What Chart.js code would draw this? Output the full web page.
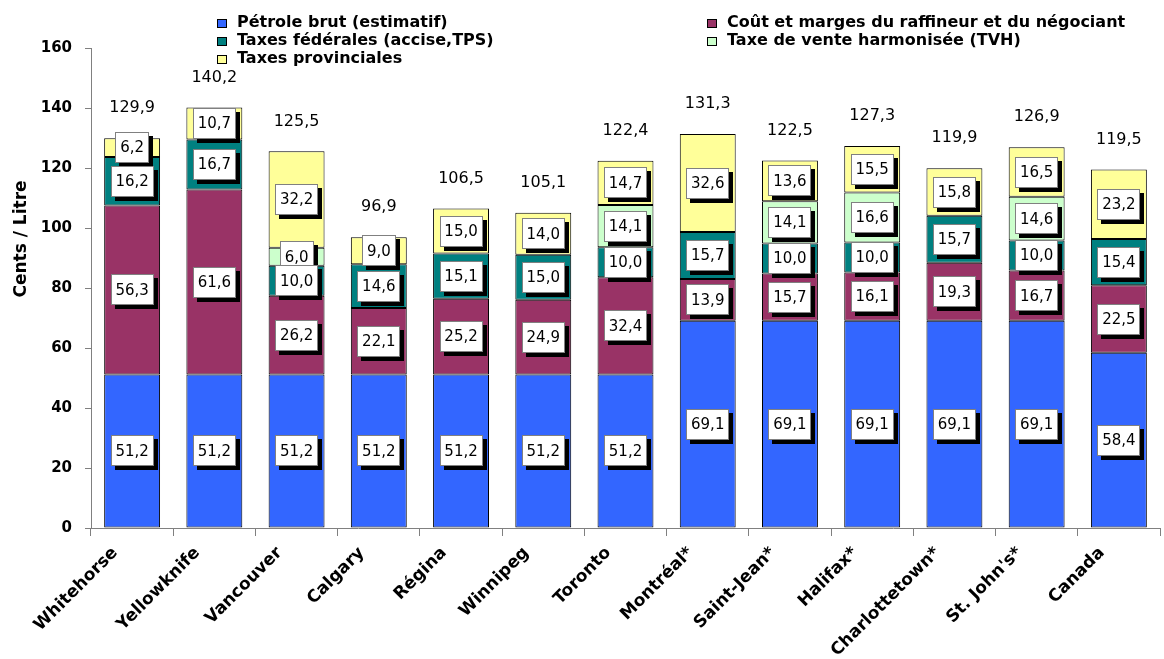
<!DOCTYPE html>
<html>
<head>
<meta charset="utf-8">
<script src="https://cdn.jsdelivr.net/npm/chart.js@4.4.1/dist/chart.umd.min.js"></script>
<style>
    html, body { margin: 0; padding: 0; background: #fff; }
</style>
</head>
<body>
<canvas id="myChart" width="1164" height="659"></canvas>
<script>
const villes = ['Whitehorse', 'Yellowknife', 'Vancouver', 'Calgary', 'Régina', 'Winnipeg', 'Toronto',
    'Montréal*', 'Saint-Jean*', 'Halifax*', 'Charlottetown*', "St. John's*", 'Canada'];
const petroleBrut = [51.2, 51.2, 51.2, 51.2, 51.2, 51.2, 51.2, 69.1, 69.1, 69.1, 69.1, 69.1, 58.4];
const coutMarges = [56.3, 61.6, 26.2, 22.1, 25.2, 24.9, 32.4, 13.9, 15.7, 16.1, 19.3, 16.7, 22.5];
const taxesFederales = [16.2, 16.7, 10.0, 14.6, 15.1, 15.0, 10.0, 15.7, 10.0, 10.0, 15.7, 10.0, 15.4];
const tvh = [null, null, 6.0, null, null, null, 14.1, null, 14.1, 16.6, null, 14.6, null];
const taxesProvinciales = [6.2, 10.7, 32.2, 9.0, 15.0, 14.0, 14.7, 32.6, 13.6, 15.5, 15.8, 16.5, 23.2];
const totaux = [129.9, 140.2, 125.5, 96.9, 106.5, 105.1, 122.4, 131.3, 122.5, 127.3, 119.9, 126.9, 119.5];
const graduations = [0, 20, 40, 60, 80, 100, 120, 140, 160];
const titreAxe = 'Cents / Litre';

const POLICE = '"DejaVu Sans", "Liberation Sans", Arial, sans-serif';

function formater(v) {
    return v.toFixed(1).replace('.', ',');
}

// étiquettes en boîte blanche avec ombre, totaux, légende et titre de l'axe
const etiquettes = {
    id: 'etiquettes',
    afterDatasetsDraw(chart) {
        const ctx = chart.ctx;
        const ds = chart.data.datasets;
        ctx.save();
        ctx.font = '15px ' + POLICE;
        ctx.textAlign = 'center';
        ctx.textBaseline = 'middle';
        for (let d = ds.length - 1; d >= 0; d--) {
            const meta = chart.getDatasetMeta(d);
            meta.data.forEach(function(bar, i) {
                const v = ds[d].data[i];
                if (v == null) return;
                const txt = formater(v);
                const w = Math.round(ctx.measureText(txt).width + 10);
                const h = 31;
                const cx = bar.x;
                const cy = (bar.y + bar.base) / 2;
                const x0 = Math.round(cx - w / 2);
                const y0 = Math.round(cy - h / 2);
                ctx.fillStyle = '#000';
                ctx.fillRect(x0 + 4, y0 + 4, w, h);
                ctx.fillStyle = '#fff';
                ctx.fillRect(x0, y0, w, h);
                ctx.strokeStyle = '#808080';
                ctx.lineWidth = 1;
                ctx.strokeRect(x0 + 0.5, y0 + 0.5, w - 1, h - 1);
                ctx.fillStyle = '#000';
                ctx.fillText(txt, cx, cy + 1);
            });
        }

        // totaux au-dessus des barres
        ctx.font = '16px ' + POLICE;
        const yScale = chart.scales.y;
        const base = chart.getDatasetMeta(0);
        totaux.forEach(function(t, i) {
            ctx.fillText(formater(t), base.data[i].x, yScale.getPixelForValue(t) - 30);
        });

        // légende sur deux colonnes
        const pos = [[217, 23], [707, 23], [217, 41], [707, 41], [217, 59]];
        ctx.font = 'bold 16px ' + POLICE;
        ctx.textAlign = 'left';
        ds.forEach(function(d, i) {
            const [x, y] = pos[i];
            ctx.fillStyle = d.backgroundColor;
            ctx.fillRect(x, y - 4, 10, 9);
            ctx.strokeStyle = '#000';
            ctx.strokeRect(x + 0.5, y - 3.5, 9, 8);
            ctx.fillStyle = '#000';
            ctx.fillText(d.label, x + 20, y);
        });

        // titre de l'axe Y
        ctx.translate(22, 239);
        ctx.rotate(-Math.PI / 2);
        ctx.textAlign = 'center';
        ctx.font = 'bold 17px ' + POLICE;
        ctx.fillText(titreAxe, 0, 0);
        ctx.restore();
    }
};

const ctx = document.getElementById('myChart').getContext('2d');
const commun = { borderColor: '#000', borderWidth: 1, borderSkipped: false };
const myChart = new Chart(ctx, {
    type: 'bar',
    data: {
        labels: villes,
        datasets: [
            Object.assign({ label: 'Pétrole brut (estimatif)', data: petroleBrut, backgroundColor: '#3366FF' }, commun),
            Object.assign({ label: 'Coût et marges du raffineur et du négociant', data: coutMarges, backgroundColor: '#993366' }, commun),
            Object.assign({ label: 'Taxes fédérales (accise,TPS)', data: taxesFederales, backgroundColor: '#008080' }, commun),
            Object.assign({ label: 'Taxe de vente harmonisée (TVH)', data: tvh, backgroundColor: '#CCFFCC' }, commun),
            Object.assign({ label: 'Taxes provinciales', data: taxesProvinciales, backgroundColor: '#FFFF99' }, commun)
        ]
    },
    options: {
        responsive: false,
        animation: false,
        categoryPercentage: 1,
        barPercentage: 0.68,
        layout: { padding: { top: 48, right: 4, left: 0, bottom: 0 } },
        plugins: {
            legend: { display: false },
            tooltip: { enabled: false }
        },
        scales: {
            x: {
                stacked: true,
                afterFit: function(s) { s.height = 131; },
                grid: { offset: true, drawOnChartArea: false, color: '#808080', tickLength: 8 },
                border: { color: '#808080' },
                ticks: {
                    color: '#000',
                    font: { family: POLICE, size: 17, weight: 'bold' },
                    minRotation: 45,
                    maxRotation: 45,
                    autoSkip: false,
                    labelOffset: -17,
                    padding: 7
                }
            },
            y: {
                stacked: true,
                min: 0,
                max: 160,
                afterFit: function(s) { s.width = 91; },
                afterBuildTicks: function(s) { s.ticks = graduations.map(v => ({ value: v })); },
                grid: { drawOnChartArea: false, color: '#808080', tickLength: 6 },
                border: { color: '#808080' },
                ticks: {
                    color: '#000',
                    font: { family: POLICE, size: 15, weight: 'bold' },
                    padding: 13
                }
            }
        }
    },
    plugins: [etiquettes]
});
</script>
</body>
</html>
